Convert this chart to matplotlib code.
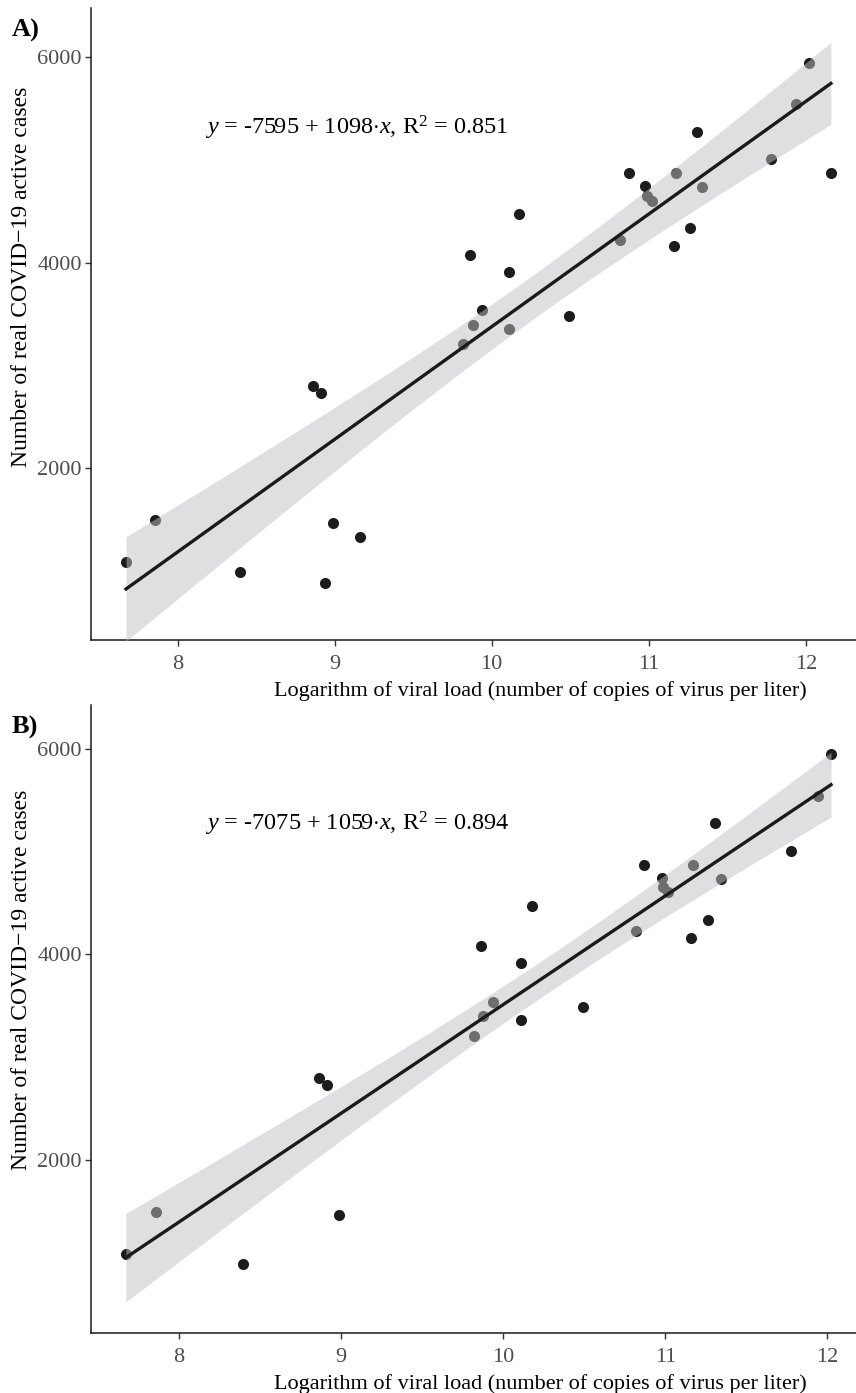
import numpy as np
import matplotlib
matplotlib.use("Agg")
import matplotlib.pyplot as plt

plt.rcParams["font.family"] = ["Liberation Serif", "DejaVu Serif"]
plt.rcParams["mathtext.fontset"] = "custom"
plt.rcParams["mathtext.rm"] = "Liberation Serif"
plt.rcParams["mathtext.it"] = "Liberation Serif:italic"

# viral load (log) and active cases
viral_a = [7.672, 7.859, 8.398, 8.862, 8.913, 8.941, 8.990, 9.162,
           9.819, 9.862, 9.879, 9.936, 10.110, 10.112, 10.176, 10.494,
           10.817, 10.874, 10.976, 10.987, 11.018, 11.160, 11.171, 11.264,
           11.305, 11.341, 11.778, 11.941, 12.022, 12.160]
cases_a = [1088, 1494, 985, 2798, 2730, 881, 1462, 1328,
           3207, 4073, 3395, 3538, 3356, 3911, 4469, 3479,
           4222, 4868, 4740, 4652, 4600, 4158, 4870, 4334,
           5274, 4738, 5005, 5545, 5946, 4868]

# panel B drops the three outliers
viral_b = [7.672, 7.858, 8.397, 8.862, 8.913, 8.989,
           9.822, 9.863, 9.877, 9.935, 10.111, 10.111, 10.176, 10.494,
           10.817, 10.871, 10.978, 10.988, 11.019, 11.158, 11.169, 11.265,
           11.307, 11.342, 11.775, 11.944, 12.022]
cases_b = [1088, 1497, 989, 2798, 2730, 1465,
           3207, 4083, 3401, 3541, 3363, 3914, 4472, 3485,
           4232, 4871, 4748, 4660, 4605, 4158, 4874, 4336,
           5277, 4737, 5007, 5540, 5948]

eq_a = r"$y$ = -7595 + 1098$\cdot x$, R$^{2}$ = 0.851"
eq_b = r"$y$ = -7075 + 1059$\cdot x$, R$^{2}$ = 0.894"

T975 = {28: 2.0484, 25: 2.0595}

W, H = 856, 1393
fig = plt.figure(figsize=(W / 100, H / 100), dpi=100)


def panel(rect, xs, ys, xlim, ylim, eq, tag, ylab_y):
    ax = fig.add_axes(rect)
    xs = np.asarray(xs, float)
    ys = np.asarray(ys, float)
    n = len(xs)
    slope, icpt = np.polyfit(xs, ys, 1)
    resid = ys - (icpt + slope * xs)
    s = np.sqrt(np.sum(resid ** 2) / (n - 2))
    xg = np.linspace(xs.min(), xs.max(), 80)
    yg = icpt + slope * xg
    se = s * np.sqrt(1 / n + (xg - xs.mean()) ** 2 / np.sum((xs - xs.mean()) ** 2))
    t = T975[n - 2]

    ax.scatter(xs, ys, s=64, color="#1c1c1c", linewidths=0, zorder=2)
    ax.fill_between(xg, yg - t * se, yg + t * se, color="#c0c0c4", alpha=0.5,
                    linewidth=0, zorder=3)
    ax.plot(xg, yg, color="#1a1a1a", lw=2.4, zorder=4)

    ax.set_xlim(*xlim)
    ax.set_ylim(*ylim)
    ax.set_xticks([8, 9, 10, 11, 12])
    ax.set_yticks([2000, 4000, 6000])
    for side in ("top", "right"):
        ax.spines[side].set_visible(False)
    for side in ("left", "bottom"):
        ax.spines[side].set_linewidth(1.1)
        ax.spines[side].set_color("#1a1a1a")
    ax.tick_params(length=4, width=1.0, color="#333333", labelcolor="#4d4d4d",
                   labelsize=16)
    ax.tick_params(axis="x", pad=7)
    ax.tick_params(axis="y", pad=2.5)
    ax.set_xlabel("Logarithm of viral load (number of copies of virus per liter)",
                  fontsize=16)
    ax.set_ylabel("Number of real COVID\u221219 active cases", fontsize=17)
    ax.xaxis.set_label_coords((540 - 91) / 765, -51 / (rect[3] * H), transform=ax.transAxes)
    ax.yaxis.set_label_coords(-69 / 765, ylab_y, transform=ax.transAxes)
    ax.xaxis.label.set_va("center")
    ax.yaxis.label.set_va("center")
    ax.text(0.149, 0.81, eq, transform=ax.transAxes, fontsize=17.5,
            ha="left", va="center")
    fig.text(12 / W, rect[1] + rect[3] - 22 / H, tag, fontsize=19,
             fontweight="bold", ha="left", va="center")
    return ax


panel([91 / W, (H - 640) / H, 765 / W, 632 / H], viral_a, cases_a,
      (7.449, 12.32), (326, 6477), eq_a, "A)", 0.574)
panel([91 / W, (H - 1333) / H, 765 / W, 628 / H], viral_b, cases_b,
      (7.457, 12.176), (316, 6428), eq_b, "B)", 0.562)

fig.savefig("out.png", dpi=100)
